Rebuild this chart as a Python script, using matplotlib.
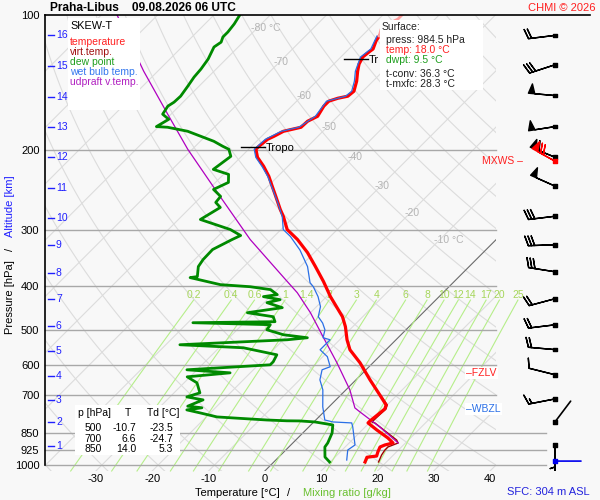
import numpy as np
import matplotlib
matplotlib.use("Agg")
import matplotlib.pyplot as plt
import matplotlib.transforms as mtransforms
from matplotlib.patches import Rectangle
from matplotlib.ticker import NullLocator

plt.rcParams['font.family'] = ['Liberation Sans', 'DejaVu Sans']
plt.rcParams['axes.unicode_minus'] = False

# ---------------- data ----------------
temp_p = [984.5, 961, 955, 935.5, 911.8, 902.5, 893.3, 870.7, 835.7, 806.2, 798.0, 750.4,
          735.1, 698.4, 646.7, 592.7, 554.5, 526.8, 492.8, 468.2, 422.5, 391.2, 362.3,
          337.2, 315.4, 299.7, 280.3, 270.4, 253.0, 240.4, 228.3, 216.9, 207.1, 198.8,
          195.8, 188.9, 186.0, 181.3, 177.6, 172.2, 167.9, 159.4, 155.4, 153.1, 151.5,
          147.7, 140.3, 133.3, 128.6, 124.0, 120.9, 119.0, 114.2, 111.4]
temp_t = [16.2, 15.7, 17.2, 16.7, 16.2, 16.7, 17.8, 16.0, 12.6, 9.8, 9.8, 10.3,
          9.8, 6.9, 2.5, -2.3, -6.4, -8.7, -11.3, -13.6, -19.3, -23.2, -27.3,
          -31.2, -35.3, -38.9, -41.9, -43.7, -46.8, -49.2, -51.6, -54.3, -57.0, -58.7,
          -58.7, -58.4, -57.8, -57.0, -54.6, -54.5, -53.6, -54.3, -54.3, -53.2, -51.8,
          -51.6, -52.9, -54.5, -55.5, -56.1, -55.9, -55.7, -56.6, -56.9]
temp_top_p = [111.4, 107.5, 104.7, 102.1, 100.0]
temp_top_t = [-56.9, -57.8, -57.5, -56.6, -56.6]

virt_p = [984.5, 950, 926, 911.8, 893.3, 879.7, 806.2, 802.2, 750.4, 735.1, 698.4]
virt_t = [18.6, 17.9, 17.6, 17.6, 18.7, 17.9, 11.0, 10.3, 10.5, 10.0, 7.0]

dwpt_p = [984.5, 959.8, 911.8, 893.3, 848.7, 814.5, 802.2, 798.0, 797.5, 794.2, 785.8,
          781.8, 765.9, 754.2, 746.0, 740.0, 716.5, 705.6, 691.3, 656.7, 636.8, 623.9,
          614.3, 598.8, 589.6, 568.9, 548.8, 540.4, 526.8, 521.4, 513.4, 500.5, 487.7,
          482.8, 480.3, 468.2, 458.7, 447.0, 435.7, 429.1, 422.5, 418.2, 407.6, 401.6,
          397.3, 383.3, 381.3, 362.3, 349.5, 332.0, 315.4, 309.0, 299.7, 284.7, 267.7,
          260.9, 253.0, 244.1, 235.5, 226.0, 220.3, 206.1, 198.8, 195.8, 190.8, 186.0,
          181.3, 177.6, 177.0, 170.5, 166.1, 159.4, 156.2, 151.5, 143.9, 137.4, 131.9,
          125.3, 117.8, 114.9, 111.9, 109.1, 104.7, 100.0]
dwpt_t = [9.9, 8.2, 6.4, 6.2, 5.2, 3.9, 0.2, -2.7, -5.0, -8.7, -15.1,
          -18.1, -21.8, -24.7, -22.4, -25.2, -23.6, -27.0, -25.4, -27.7, -30.5, -23.6,
          -31.8, -17.9, -17.9, -18.5, -25.7, -37.5, -19.3, -16.1, -20.9, -24.7, -25.0,
          -39.1, -24.7, -25.9, -31.2, -25.9, -29.5, -27.7, -31.2, -29.1, -31.2, -35.3,
          -41.0, -47.6, -46.5, -48.1, -48.5, -48.6, -46.9, -46.1, -49.0, -56.1, -54.7,
          -56.4, -56.6, -59.1, -57.7, -59.1, -62.7, -61.9, -63.5, -65.1, -67.6, -70.8,
          -74.0, -78.3, -80.4, -79.5, -81.5, -82.0, -81.6, -81.5, -82.0, -82.5, -82.7,
          -83.2, -84.3, -83.9, -84.5, -84.5, -84.8, -85.4]

wetb_p = [974.7, 926.0, 902.5, 823.0, 806.2, 802.2, 794.2, 742.5, 680.7, 646.7, 614.3,
          604.7, 574.3, 554.5, 546.0, 526.8, 521.4, 500.5, 483.6, 468.2, 444.6, 422.5,
          401.6, 393.4, 362.3, 332.8, 310.5, 299.7, 280.3, 260.9, 228.3, 216.9, 207.1,
          198.8, 188.9, 181.3, 177.6, 167.9, 155.4, 151.5, 147.7, 140.3, 133.3, 124.0,
          119.0, 111.4]
wetb_t = [12.6, 11.0, 11.4, 7.8, 6.9, 3.4, 1.6, -1.1, -4.1, -6.4, -7.8,
          -6.9, -9.2, -11.7, -11.7, -11.7, -13.3, -14.4, -16.0, -17.9, -19.3, -21.5,
          -24.1, -25.4, -28.7, -33.0, -37.1, -39.6, -42.1, -45.4, -51.8, -54.6, -57.3,
          -59.0, -58.8, -57.4, -55.0, -54.0, -54.7, -52.2, -52.0, -53.3, -54.9, -56.5,
          -56.1, -57.3]

parcel_p = [893.3, 823.0, 762.0, 746.6, 680.7, 592.7, 518.7, 458.7, 414.0, 387.2,
            315.4, 247.9, 198.8, 166.1, 133.3, 100.0]
parcel_t = [18.7, 12.6, 6.4, 4.8, 0.7, -6.4, -13.5, -20.0, -25.9, -30.3,
            -43.7, -57.9, -70.8, -80.6, -92.5, -107.2]

wind_p = [111, 129, 151, 177, 207, 240, 280, 324, 372, 427, 488, 554, 630, 713, 802, 903, 980]
wind_dir = [263, 252, 275, 261, 292, 294, 263, 268, 279, 255, 263, 275, 284, 259, 37, 180, 90]
wind_spd = [20, 30, 50, 50, 60, 50, 30, 30, 30, 20, 20, 20, 10, 15, 2, 5, 2]
mxws_p, mxws_dir, mxws_spd = 211, 299, 70

pres_ticks = [100, 200, 300, 400, 500, 600, 700, 850, 925, 1000]
isobars = [200, 300, 400, 500, 600, 700, 850, 925, 1000]
temp_ticks = [-30, -20, -10, 0, 10, 20, 30, 40]
km_levels = [16, 15, 14, 13, 12, 11, 10, 9, 8, 7, 6, 5, 4, 3, 2, 1]
km_p = [111, 130, 152, 177, 207, 242, 282, 325, 374, 427, 490, 557, 634, 717, 802, 907]
iso_lab_t = [-80, -70, -60, -50, -40, -30, -20, -10]
iso_lab_p = [107, 127, 151, 177, 207, 240, 275, 316]
iso_lab_txt = ['-80 °C', '-70', '-60', '-50', '-40', '-30', '-20', '-10 °C']
mr_values = [0.2, 0.4, 0.6, 1, 1.4, 2, 3, 4, 6, 8, 10, 12, 14, 17, 20, 25]
mr_labels = ['0.2', '0.4', '0.6', '1', '1.4', '2', '3', '4', '6', '8', '10', '12', '14', '17', '20', '25']
tropo_p = [196.5, 125.0]
tropo_t = [-58.7, -56.1]
tropo_lab = ['Tropo', 'Tr']
fzlv_p, wbzl_p = 624, 751
tab_p = [500, 700, 850]
tab_t = [-10.7, 6.6, 14.0]
tab_td = [-23.5, -24.7, 5.3]

# ---------------- figure ----------------
W, H = 600, 500
BG = '#f8f8f8'
fig = plt.figure(figsize=(6, 5), dpi=100, facecolor=BG)

P_TOP, P_BOT = 100.0, 1031.0
X_LEFT, X_RIGHT = -40.1, 40.0
SKEW = 34.7


def skx(t, p):
    return np.asarray(t, float) + SKEW * np.log(1000.0 / np.asarray(p, float))


def fx(px):
    return px / W


def fy(py):
    return 1 - py / H


ax = fig.add_axes([fx(45), fy(471), 451 / W, 456 / H])
ax.set_facecolor(BG)
ax.set_yscale('log')
ax.set_ylim(P_BOT, P_TOP)
ax.set_xlim(X_LEFT, X_RIGHT)
for s in ['top', 'right', 'bottom']:
    ax.spines[s].set_visible(False)
ax.spines['left'].set_bounds(1000, 100)
ax.spines['left'].set_linewidth(1.2)

ax.set_yticks(pres_ticks)
ax.set_yticklabels([str(p) for p in pres_ticks])
ax.yaxis.set_minor_locator(NullLocator())
ax.tick_params(axis='y', length=0, pad=4, labelsize=8)
ax.set_xticks(skx(temp_ticks, [P_BOT] * len(temp_ticks)))
ax.set_xticklabels([str(t) for t in temp_ticks])
ax.tick_params(axis='x', length=0, pad=2, labelsize=8)

# background isotherms & dry adiabats
LG = '#dcdcdc'
for t in range(-160, 50, 10):
    ax.plot(skx([t, t], [P_BOT, P_TOP]), [P_BOT, P_TOP],
            color='#6a6a6a' if t == 0 else LG, lw=0.8, zorder=1.1 if t == 0 else 1)
p_line = np.geomspace(P_BOT, P_TOP, 120)
for th in range(-40, 230, 10):
    tt = (th + 273.15) * (p_line / 1000.0) ** 0.2857 - 273.15
    ax.plot(skx(tt, p_line), p_line, color=LG, lw=0.8, zorder=1)

# mixing ratio lines
p_mr = np.geomspace(P_BOT, 430, 40)
for w, lab in zip(mr_values, mr_labels):
    e = w * p_mr / (622.0 + w)
    l = np.log(e / 6.112)
    td = 243.5 * l / (17.67 - l)
    ax.plot(skx(td, p_mr), p_mr, color='#b6ee8a', lw=0.8, clip_on=False, zorder=1.2)
    ax.text(skx(td[-1], 430), 419, lab, color='#a6d65a', fontsize=7.5,
            ha='center', va='center', zorder=1.3, clip_on=False)

# isobars
for p in isobars:
    xm = (546 - 45) / 451 if p >= 850 else 1.0
    ax.axhline(p, xmin=0, xmax=xm, color='#a8a8a8', lw=1, zorder=1.5, clip_on=False)
ax.axhline(100, xmin=0, xmax=(590 - 45) / 451, color='k', lw=1.2, zorder=6, clip_on=False)

# isotherm labels
off = mtransforms.offset_copy(ax.transData, fig=fig, x=-6, y=0, units='dots')
for t, p, s in zip(iso_lab_t, iso_lab_p, iso_lab_txt):
    ax.text(skx(t, p), p, s, transform=off, ha='left', va='center',
            color='#b4b4b4', fontsize=7.5, zorder=1.4)

# profiles
ax.plot(skx(virt_t, virt_p), virt_p, color='#a00000', lw=1.0, zorder=3)
ax.plot(skx(parcel_t, parcel_p), parcel_p, color='#b000c0', lw=0.9, zorder=3.1)
ax.plot(skx(dwpt_t, dwpt_p), dwpt_p, color='#008a00', lw=2.0, zorder=3.3)
ax.plot(skx(temp_t, temp_p), temp_p, color='#ff0000', lw=2.3, zorder=3.5)
ax.plot(skx(temp_top_t, temp_top_p), temp_top_p, color='#ffa0a0', lw=2.0, zorder=3.5)
ax.plot(skx(wetb_t, wetb_p), wetb_p, color='#2a6fe6', lw=0.9, zorder=3.6)

# tropopause markers
inv = ax.transData.inverted()
for p, t, lab in zip(tropo_p, tropo_t, tropo_lab):
    xs = skx(t, p)
    t1 = mtransforms.offset_copy(ax.transData, fig=fig, x=-17, y=0, units='dots')
    t2 = mtransforms.offset_copy(ax.transData, fig=fig, x=7, y=0, units='dots')
    d1 = inv.transform(t1.transform((xs, p)))
    d2 = inv.transform(t2.transform((xs, p)))
    ax.plot([d1[0], d2[0]], [p, p], color='k', lw=1, zorder=4)
    ax.text(d2[0], p, lab, ha='left', va='center', fontsize=8, color='k', zorder=4,
            transform=mtransforms.offset_copy(ax.transData, fig=fig, x=1, y=-1, units='dots'))

# km altitude ticks
tkm = mtransforms.blended_transform_factory(ax.transAxes, ax.transData)
for km, p in zip(km_levels, km_p):
    ax.plot([3 / 451, 9 / 451], [p, p], transform=tkm, color='#2020ff', lw=1.0,
            clip_on=False, zorder=5)
    ax.text(11 / 451, p, str(km), transform=tkm, color='#2020ff', fontsize=7.5,
            ha='left', va='center', zorder=5)

# level markers
ax.text((482 - 45) / 451, mxws_p, 'MXWS \u2013', transform=tkm, color='#ff2020', fontsize=7.5,
        ha='left', va='center', clip_on=False, zorder=5)
ax.text((466 - 45) / 451, fzlv_p, '\u2013FZLV', transform=tkm, color='#ff2020', fontsize=7.5,
        ha='left', va='center', clip_on=False, zorder=5,
        bbox=dict(facecolor='white', edgecolor='none', pad=1))
ax.text((466 - 45) / 451, wbzl_p, '\u2013WBZL', transform=tkm, color='#2a6fe6', fontsize=7.5,
        ha='left', va='center', clip_on=False, zorder=5,
        bbox=dict(facecolor='white', edgecolor='none', pad=1))

# ---------------- wind barbs ----------------
axw = fig.add_axes([fx(496), fy(471), 104 / W, 456 / H])
axw.set_yscale('log')
axw.set_ylim(P_BOT, P_TOP)
axw.set_xlim(0, 104)
axw.axis('off')
XB = 59
BSIZE = dict(spacing=0.12, height=0.36, width=0.24)
wp = np.array(wind_p, float)
wd = np.radians(np.array(wind_dir, float))
ws = np.array(wind_spd, float)
u = -ws * np.sin(wd)
v = -ws * np.cos(wd)
strong = ws >= 5
axw.barbs(np.full(strong.sum(), XB), wp[strong], u[strong], v[strong], length=6.2,
          lw=1, color='k', pivot='tip', sizes=BSIZE)
axw.barbs([XB], [mxws_p], [-mxws_spd * np.sin(np.radians(mxws_dir))],
          [-mxws_spd * np.cos(np.radians(mxws_dir))], length=6.2, lw=1, color='#ff0000',
          pivot='tip', sizes=BSIZE)
for p, d, sp in zip(wind_p, wind_dir, wind_spd):
    if sp < 5:
        col = '#0000ee' if p == wind_p[-1] else 'k'
        L = 26
        dx = L * np.sin(np.radians(d))
        dy = L * np.cos(np.radians(d))
        axw.annotate('', xy=(XB, p), xytext=(dx, dy), textcoords='offset pixels',
                     arrowprops=dict(arrowstyle='-', color=col, lw=1.2, shrinkA=0, shrinkB=0))
cols = ['#0000ee' if p == wind_p[-1] else 'k' for p in wind_p]
axw.scatter(np.full(len(wind_p), XB), wind_p, s=7, marker='s', c=cols, zorder=5)
axw.scatter([XB], [mxws_p], s=7, marker='s', c='#ff0000', zorder=5)

# ---------------- boxes & texts ----------------
def box(x0, y0, x1, y1):
    fig.add_artist(Rectangle((fx(x0), fy(y1)), (x1 - x0) / W, (y1 - y0) / H,
                             transform=fig.transFigure, facecolor='white',
                             edgecolor='none', zorder=5))


def ftxt(x, y, s, **kw):
    kw.setdefault('fontsize', 7.5)
    kw.setdefault('va', 'center')
    kw.setdefault('ha', 'left')
    fig.text(fx(x), fy(y), s, zorder=6, **kw)


# legend
box(68, 18, 140, 110)
ftxt(70, 26, 'SKEW-T', color='k', fontsize=7.8)
for yy, s, c in [(42, 'temperature', '#ff2020'), (52, 'virt.temp.', '#a01010'),
                 (62, 'dew point', '#1e9e1e'), (72, 'wet bulb temp.', '#3377ee'),
                 (82, 'udpraft v.temp.', '#b020c0')]:
    ftxt(70, yy, s, color=c)

# surface box
box(380, 20, 483, 90)
ftxt(382, 27, 'Surface:', color='#222222')
ftxt(386, 40, 'press: 984.5 hPa', color='#222222')
ftxt(386, 50, 'temp: 18.0 °C', color='#ff2020')
ftxt(386, 60, 'dwpt: 9.5 °C', color='#1e9e1e')
ftxt(386, 74, 't-conv: 36.3 °C', color='#222222')
ftxt(386, 84, 't-mxfc: 28.3 °C', color='#222222')

# table box
box(75, 405, 180, 455)
ftxt(78, 413, 'p [hPa]')
ftxt(128, 413, 'T', ha='center')
ftxt(147, 413, 'Td [°C]')
for i, (p, t, td) in enumerate(zip(tab_p, tab_t, tab_td)):
    yy = 428 + i * 10.5
    ftxt(102, yy, f'{p}', ha='right')
    ftxt(136, yy, f'{t:.1f}', ha='right')
    ftxt(173, yy, f'{td:.1f}', ha='right')

# titles
ftxt(50, 8, 'Praha-Libus    09.08.2026 06 UTC', fontsize=8.6, fontweight='bold', color='k')
ftxt(595, 8, 'CHMI © 2026', ha='right', fontsize=8, color='#ff2020')
ftxt(590, 492, 'SFC: 304 m ASL', ha='right', fontsize=8, color='#2222dd')

# axis labels
ftxt(280, 493, 'Temperature [°C]', ha='right', fontsize=8, color='k')
ftxt(289, 493, '/', ha='center', fontsize=8, color='k')
ftxt(303, 493, 'Mixing ratio [g/kg]', ha='left', fontsize=8, color='#6ac030')
ftxt(10, 297, 'Pressure [hPa]', ha='center', rotation=90, fontsize=8, color='k')
ftxt(10, 249, '/', ha='center', rotation=90, fontsize=8, color='k')
ftxt(10, 206, 'Altitude [km]', ha='center', rotation=90, fontsize=8, color='#2020ff')

fig.savefig('out.png', dpi=100, facecolor=BG)
